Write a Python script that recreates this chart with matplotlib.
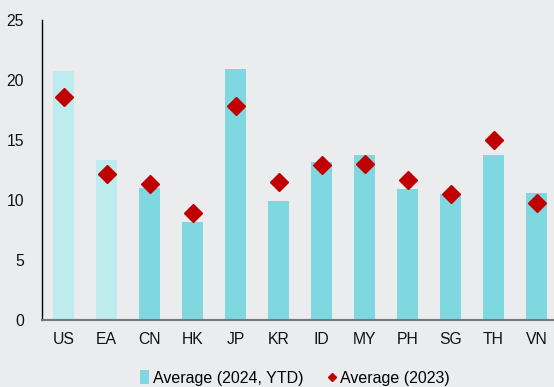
import matplotlib.pyplot as plt
from matplotlib.patches import Patch
from matplotlib.lines import Line2D

plt.rcParams['font.family'] = ['Liberation Sans', 'DejaVu Sans']

# data
countries = ["US", "EA", "CN", "HK", "JP", "KR", "ID", "MY", "PH", "SG", "TH", "VN"]
avg_2024_ytd = [20.75, 13.33, 11.0, 8.17, 20.92, 9.9, 13.17, 13.78, 10.94, 10.5, 13.75, 10.58]
avg_2023 = [18.56, 12.14, 11.33, 8.89, 17.83, 11.5, 12.92, 13.0, 11.64, 10.47, 14.97, 9.75]

bg = "#EBECEE"
light = "#BEEBEE"
cyan = "#7FD8E0"
red = "#C00000"

fig = plt.figure(figsize=(5.54, 3.87), dpi=100, facecolor=bg)
ax = fig.add_axes([42 / 554, 67 / 387, 516 / 554, 300 / 387], facecolor=bg)

x = list(range(len(countries)))
bar_colors = [light if c in ("US", "EA") else cyan for c in countries]
ax.bar(x, avg_2024_ytd, width=0.51, color=bar_colors, zorder=2)
ax.plot(x, avg_2023, linestyle="none", marker="D", ms=9.5, color=red, zorder=3)

ax.set_xlim(-0.5, len(countries) - 0.5)
ax.set_ylim(0, 25)
ax.set_yticks([0, 5, 10, 15, 20, 25])
ax.set_xticks(x)
ax.set_xticklabels(countries)
ax.tick_params(axis="both", length=0, labelsize=11.3, colors="#111111")
ax.tick_params(axis="y", pad=13)
ax.tick_params(axis="x", pad=9)

for s in ["top", "right"]:
    ax.spines[s].set_visible(False)
ax.spines["left"].set_color("black")
ax.spines["left"].set_linewidth(1.0)
ax.spines["bottom"].set_color("#777777")
ax.spines["bottom"].set_linewidth(1.5)

handles = [
    Patch(facecolor=cyan, edgecolor="none", label="Average (2024, YTD)"),
    Line2D([], [], linestyle="none", marker="D", ms=4.5, color=red, label="Average (2023)"),
]
fig.legend(handles=handles, loc="center", bbox_to_anchor=(295 / 554, 9 / 387), ncol=2,
           frameon=False, fontsize=11.5, handlelength=0.55, handleheight=0.9,
           handletextpad=0.25, columnspacing=1.5)

fig.savefig("out.png", dpi=100, facecolor=bg)
